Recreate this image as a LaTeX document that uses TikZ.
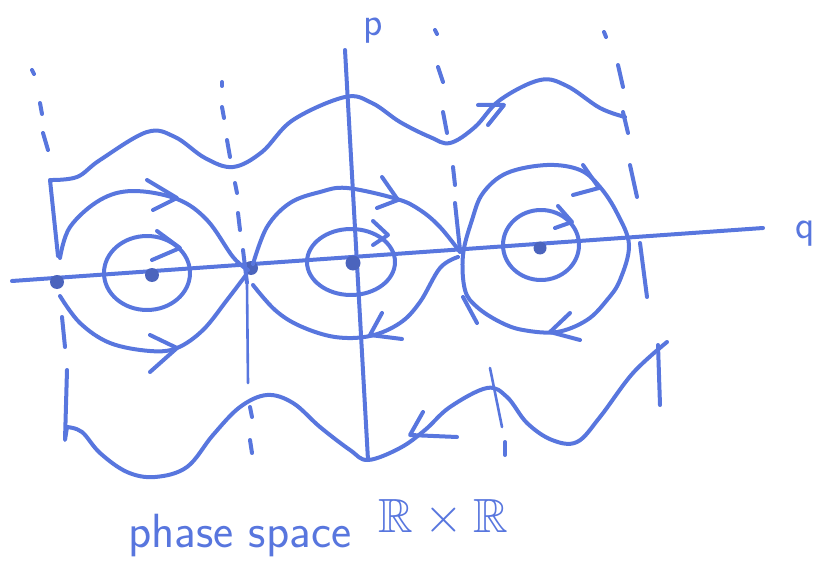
\documentclass[tikz,border=0pt]{standalone}
\usepackage{amssymb}
\usetikzlibrary{positioning}
\definecolor{ink}{RGB}{88,118,222}

\begin{document}
\begin{tikzpicture}[x=1pt, y=-1pt,
  pen/.style={draw=ink, line width=4pt, line cap=round, line join=round},
  thinpen/.style={pen, line width=2.6pt},
  dot/.style={circle, fill=ink!85!black, inner sep=0pt, minimum size=14pt},
  lbl/.style={text=ink, font=\sffamily\fontsize{20}{20}\selectfont, scale=2}
]
\useasboundingbox (0,0) rectangle (825,567);

% axes
\coordinate (qstart) at (12,281);
\coordinate (qend) at (763,228);
\coordinate (ptop) at (345,50);
\coordinate (pbot) at (368,460);
\draw[pen] (qstart) -- (qend);
\draw[pen] (ptop) -- (pbot);
\node[lbl, right=32pt of qend, anchor=base west, yshift=-5pt, inner sep=0pt] (qlab) {q};
\node[lbl, anchor=base, inner sep=0pt] (plab) at (373,36) {p};

% fixed points
\node[dot] (s1) at (57,282) {};
\node[dot] (c1) at (152,275) {};
\node[dot] (s2) at (251,268) {};
\node[dot, minimum size=15pt] (c2) at (353,263) {};
\coordinate (s3) at (461,254);
\node[dot, minimum size=13pt] (c3) at (540,248) {};

% small orbits
\draw[pen] (147,273) ellipse [x radius=43, y radius=37];
\draw[pen] (351,262) ellipse [x radius=44, y radius=33];
\draw[pen] (541,245) ellipse [x radius=38, y radius=35];
\draw[pen] (157,231) -- (180,248) -- (152,260);
\draw[pen] (373,221) -- (388,235) -- (373,245);
\draw[pen] (558,206) -- (572,222) -- (555,228);

% separatrix cells
\draw[pen] plot[smooth, tension=0.6] coordinates {(60,258) (70,227) (100,200) (133,191) (177,199) (207,220) (233,257) (248,270)};
\draw[pen] plot[smooth, tension=0.6] coordinates {(60,296) (80,323) (110,343) (150,351) (177,348) (203,330) (227,300) (246,275)};
\draw[pen] plot[smooth, tension=0.6] coordinates {(253,264) (267,227) (290,203) (320,192) (347,188) (397,199) (420,210) (440,227) (460,252)};
\draw[pen] plot[smooth, tension=0.6] coordinates {(253,285) (275,310) (300,326) (335,337) (370,336) (400,323) (420,302) (440,268) (458,257)};
\draw[pen] plot[smooth cycle, tension=0.6] coordinates {(463,255) (472,220) (483,193) (507,173) (547,165) (580,170) (600,187) (617,213) (629,245) (620,280) (607,300) (587,320) (557,332) (523,330) (500,322) (477,307) (465,290)};
\draw[pen] (147,180) -- (177,198) -- (153,210);
\draw[pen] (382,177) -- (398,200) -- (377,208);
\draw[pen] (583,165) -- (599,188) -- (573,195);
\draw[pen] (150,335) -- (177,348) -- (150,372);
\draw[pen] (382,313) -- (370,335) -- (402,339);
\draw[pen] (570,313) -- (550,332) -- (580,340);

% rotating orbits
\draw[pen] (58,256) -- (50,180) -- plot[smooth, tension=0.6] coordinates {(50,180) (77,177) (100,160) (147,132) (175,137) (205,158) (233,167) (262,152) (293,120) (345,97) (372,103) (400,122) (430,137) (450,143) (475,127) (500,100) (540,80) (567,86) (600,108) (625,117)};
\draw[pen] (67,370) -- (65,440) -- plot[smooth, tension=0.6] coordinates {(67,427) (82,432) (100,453) (127,472) (155,477) (187,467) (213,435) (240,407) (267,395) (293,403) (320,427) (350,450) (368,460) (400,448) (425,430) (450,407) (487,388) (507,397) (527,423) (552,440) (577,442) (600,417) (633,373) (667,342)};
\draw[pen] (658,345) -- (660,405);
\draw[pen] (478,105) -- (504,105) -- (488,125);
\draw[pen] (423,412) -- (410,435) -- (457,437);

% dashed lines q = +-pi
\foreach \a/\b in {{32,70}/{34,74}, {40,103}/{42,114}, {43,133}/{48,150}, {62,317}/{65,347},
  {222,82}/{222,86}, {222,107}/{224,118}, {227,140}/{230,157}, {235,183}/{237,193}, {238,213}/{240,230}, {243,250}/{247,283},
  {250,407}/{252,417}, {250,440}/{252,453},
  {435,30}/{437,34}, {438,67}/{443,82}, {443,112}/{447,133}, {453,167}/{455,185}, {455,203}/{460,250},
  {463,297}/{477,323}, {505,442}/{505,455},
  {604,32}/{606,37}, {618,65}/{623,87}, {623,112}/{628,133}, {630,165}/{637,197}, {640,243}/{647,297}}
  \draw[pen] (\a) -- (\b);
\draw[thinpen] (247,285) -- (248,383);
\draw[thinpen] (490,368) -- (502,427);

% caption
\node[lbl, scale=1.2, anchor=base west, inner sep=0pt] (caption) at (128,547) {phase space};
\node[lbl, font=\fontsize{24}{24}\selectfont, anchor=base west, inner sep=0pt] (space) at (378,532) {$\mathbb{R}\times\mathbb{R}$};
\end{tikzpicture}
\end{document}
